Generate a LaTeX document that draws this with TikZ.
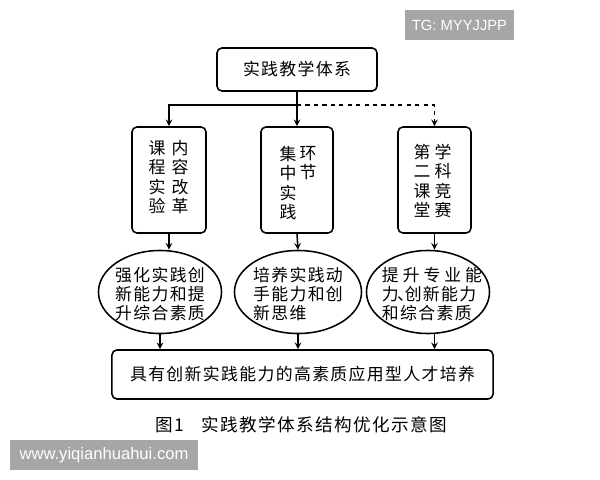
\documentclass[tikz,border=0pt]{standalone}
\usepackage{fontspec}
\setmainfont{Liberation Sans}
\newfontfamily\cjk[LetterSpace=8]{Noto Sans CJK SC}
\usetikzlibrary{shapes.geometric}

\begin{document}
\begin{tikzpicture}[x=0.025cm, y=-0.025cm,
		box/.style={draw, line width=1.1pt, rounded corners=3.5pt, inner sep=0pt},
		oval/.style={draw, line width=1.1pt, ellipse, inner sep=0pt, minimum height=2.075cm},
		zi/.style={font=\cjk\fontsize{12pt}{13.8pt}\selectfont, inner sep=0pt},
		col/.style={zi, align=center},
		arr/.style={->, >=stealth, line width=1.1pt},
		wmark/.style={fill=black!35, text=white, inner sep=0pt}]
		\useasboundingbox (0,0) rectangle (600,480);
		\node[wmark, minimum width=2.725cm, minimum height=0.75cm, font=\fontsize{10.5pt}{12pt}\selectfont] (tg) at (459.5,25) {TG: MYYJJPP};
		\node[wmark, minimum width=4.7cm, minimum height=0.75cm, font=\fontsize{11.8pt}{14pt}\selectfont] (www) at (104,455) {www.yiqianhuahui.com};
		\node[box, zi, minimum width=4cm, minimum height=1.075cm] (sys) at (297,69.5) {实践教学体系};
		\node[box, minimum width=1.85cm, minimum height=2.65cm] (kc) at (169,180) {};
		\node[box, minimum width=1.8cm, minimum height=2.65cm] (jz) at (297,180) {};
		\node[box, minimum width=1.825cm, minimum height=2.65cm] (dk) at (434.5,180) {};
		\node[col] (kc1) at (157,177) {课\\程\\实\\验};
		\node[col] (kc2) at (180,177) {内\\容\\改\\革};
		\node[col] (jz1) at (288,183) {集\\中\\实\\践};
		\node[col] (jz2) at (308,163) {环\\节};
		\node[col] (dk1) at (422,181) {第\\二\\课\\堂};
		\node[col] (dk2) at (443,181) {学\\科\\竞\\赛};
		\node[oval, minimum width=3.075cm] (qh) at (160,292) {};
		\node[oval, minimum width=3.175cm] (py) at (298,292) {};
		\node[oval, minimum width=3.075cm] (ts) at (428,292) {};
		\node[zi, align=center] (qht) at (160,294) {强化实践创\\新能力和提\\升综合素质};
		\node[zi, align=left] (pyt) at (298,294) {培养实践动\\手能力和创\\新思维};
		\node[zi, align=left] (tst) at (432,294) {\makebox[2.5cm][s]{提\hfill 升\hfill 专\hfill 业\hfill 能}\\\makebox[2.5cm][s]{力\kern-0.1em、\kern-0.55em 创新能力}\\和综合素质};
		\node[box, zi, minimum width=9.525cm, minimum height=1.225cm] (rc) at (302.5,374.5) {具有创新实践能力的高素质应用型人才培养};
		\node[zi, font=\cjk\fontsize{12.5pt}{14pt}\selectfont] (cap) at (301,425) {图1\quad 实践教学体系结构优化示意图};
		\coordinate (j) at (297,105);
		\draw[arr] (sys.south) -- (jz.north);
		\draw[arr] (j) -| (kc.north);
		\draw[arr, dashed] (j) -| (dk.north);
		\draw[arr] (kc.south) -- (kc.south |- qh.north);
		\draw[arr] (jz.south) -- (py.north);
		\draw[arr] (dk.south) -- (dk.south |- ts.north);
		\draw[arr] (qh.south) -- (qh.south |- rc.north);
		\draw[arr] (py.south) -- (py.south |- rc.north);
		\draw[arr] (ts.south -| dk.south) -- (dk.south |- rc.north);
\end{tikzpicture}
\end{document}
